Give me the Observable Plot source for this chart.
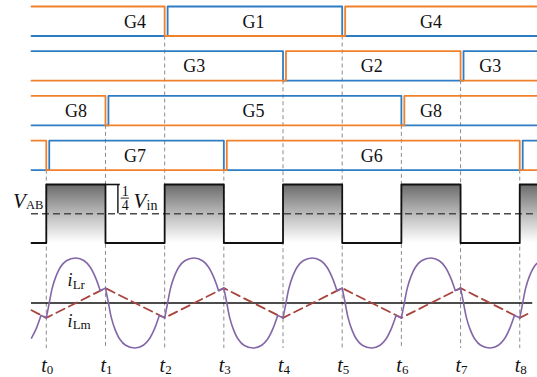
<!DOCTYPE html>
<html>
<head>
<meta charset="utf-8">
<script src="https://cdn.jsdelivr.net/npm/d3@7"></script>
<script src="https://cdn.jsdelivr.net/npm/@observablehq/plot@0.6"></script>
<style>
  html, body { margin: 0; padding: 0; background: #fff; }
  #chart svg { display: block; }
  #chart svg text { font-family: "Liberation Serif", "Times New Roman", serif; }
</style>
</head>
<body>
<div id="chart"></div>
<script>
// Time axis: switching instants t0 … t8 (one unit = one switching interval)
const tickTimes = [0, 1, 2, 3, 4, 5, 6, 7, 8];
const tickLabels = ["0", "1", "2", "3", "4", "5", "6", "7", "8"];
const tStart = -0.25, tEnd = 8.3;

// Gate-drive lanes: switching instants, which colour conducts first, gate names per interval
const laneEdges = [[2, 5], [4, 7], [1, 6], [0, 3, 8]];
const laneFirst = ["orange", "blue", "orange", "orange"];
const laneGates = [["G4", "G1", "G4"], ["G3", "G2", "G3"], ["G8", "G5", "G8"], ["G6", "G7", "G6", "G7"]];
const laneLabelTimes = [[1.5, 3.5, 6.5], [2.5, 5.5, 7.5], [0.5, 3.5, 6.5], [null, 1.5, 5.5, null]];
const deadTime = 0.05; // turn-on lags turn-off

// Bridge voltage V_AB in units of Vin
const vabEdges = [0, 1, 2, 3, 4, 5, 6, 7, 8];
const vabLow = 0, vabHigh = 0.5, vabMid = 0.25;

// Magnetizing current i_Lm at its breakpoints (per unit of the i_Lr peak)
const iLmT = [-0.25, 0, 1, 2, 3, 4, 5, 6, 7, 8, 8.2];
const iLmV = [-0.16, -0.33, 0.33, -0.33, 0.33, -0.33, 0.33, -0.33, 0.33, -0.33, -0.2];

// Resonant current i_Lr: resonant arcs [t, i]
const iLrArcs = [
  [[-0.25, -0.78], [-0.17, -0.57], [-0.09, -0.28]],
  [[0, -0.33], [0.05, 0], [0.1, 0.33], [0.16, 0.58], [0.24, 0.8], [0.34, 0.94], [0.5, 1], [0.64, 0.94], [0.74, 0.8], [0.83, 0.57], [0.91, 0.28]],
  [[1, 0.33], [1.05, 0], [1.1, -0.33], [1.16, -0.58], [1.24, -0.8], [1.34, -0.94], [1.5, -1], [1.64, -0.94], [1.74, -0.8], [1.83, -0.57], [1.91, -0.28]],
  [[2, -0.33], [2.05, 0], [2.1, 0.33], [2.16, 0.58], [2.24, 0.8], [2.34, 0.94], [2.5, 1], [2.64, 0.94], [2.74, 0.8], [2.83, 0.57], [2.91, 0.28]],
  [[3, 0.33], [3.05, 0], [3.1, -0.33], [3.16, -0.58], [3.24, -0.8], [3.34, -0.94], [3.5, -1], [3.64, -0.94], [3.74, -0.8], [3.83, -0.57], [3.91, -0.28]],
  [[4, -0.33], [4.05, 0], [4.1, 0.33], [4.16, 0.58], [4.24, 0.8], [4.34, 0.94], [4.5, 1], [4.64, 0.94], [4.74, 0.8], [4.83, 0.57], [4.91, 0.28]],
  [[5, 0.33], [5.05, 0], [5.1, -0.33], [5.16, -0.58], [5.24, -0.8], [5.34, -0.94], [5.5, -1], [5.64, -0.94], [5.74, -0.8], [5.83, -0.57], [5.91, -0.28]],
  [[6, -0.33], [6.05, 0], [6.1, 0.33], [6.16, 0.58], [6.24, 0.8], [6.34, 0.94], [6.5, 1], [6.64, 0.94], [6.74, 0.8], [6.83, 0.57], [6.91, 0.28]],
  [[7, 0.33], [7.05, 0], [7.1, -0.33], [7.16, -0.58], [7.24, -0.8], [7.34, -0.94], [7.5, -1], [7.64, -0.94], [7.74, -0.8], [7.83, -0.57], [7.91, -0.28]],
  [[8, -0.33], [8.05, 0], [8.1, 0.33], [8.16, 0.58], [8.24, 0.8], [8.29, 0.88]]
];
// i_Lr riding on i_Lm until the next switching instant
const iLrTails = [
  [[-0.09, -0.28], [0, -0.33]],
  [[0.91, 0.28], [1, 0.33]],
  [[1.91, -0.28], [2, -0.33]],
  [[2.91, 0.28], [3, 0.33]],
  [[3.91, -0.28], [4, -0.33]],
  [[4.91, 0.28], [5, 0.33]],
  [[5.91, -0.28], [6, -0.33]],
  [[6.91, 0.28], [7, 0.33]],
  [[7.91, -0.28], [8, -0.33]]
];

// ---- layout ----
const W = 537, H = 377;
const serif = "Liberation Serif";
const colors = {orange: "#EF812D", blue: "#2E7DC4"};
const laneTop = [6, 50.7, 95.4, 140.1], laneH = 29.5;
const laneY = (k, level) => laneTop[k] + (1 - level) * laneH;
const vabTopY = 184, vabBotY = 242.5;
const vabY = v => vabBotY + (vabTopY - vabBotY) * (v - vabLow) / (vabHigh - vabLow);
const axisY = 302.5, ampPx = 45;
const curY = v => axisY - v * ampPx;
const gridBottom = 348;
const tLabelBase = 371.5;

// step outline of one gate signal
function gateSteps(lane, colorName) {
  const edges = laneEdges[lane];
  const key = `${lane}-${colorName}`;
  let on = laneFirst[lane] === colorName;
  const pts = [{t: tStart, y: laneY(lane, on ? 1 : 0), key}];
  for (const e of edges) {
    const te = on ? e : e + deadTime;
    pts.push({t: te, y: laneY(lane, on ? 1 : 0), key});
    pts.push({t: te, y: laneY(lane, on ? 0 : 1), key});
    on = !on;
  }
  pts.push({t: tEnd, y: laneY(lane, on ? 1 : 0), key});
  return pts;
}
const orangeSteps = laneEdges.flatMap((_, k) => gateSteps(k, "orange"));
const blueSteps = laneEdges.flatMap((_, k) => gateSteps(k, "blue"));

const gateLabels = laneGates.flatMap((names, k) =>
  names.map((g, j) => ({lane: k, g, t: laneLabelTimes[k][j]})).filter(d => d.t != null));

// dashed guides start below the lane that switches at that instant
const guides = tickTimes.map(t => {
  const k = laneEdges.findIndex(e => e.includes(t));
  return {t, top: laneY(k, 0), bottom: gridBottom};
});

// V_AB outline and shaded high intervals
const vabPts = [{t: tStart, v: vabLow}];
vabEdges.forEach((e, i) => {
  const before = i % 2 === 0 ? vabLow : vabHigh;
  const after = i % 2 === 0 ? vabHigh : vabLow;
  vabPts.push({t: e, v: before}, {t: e, v: after});
});
vabPts.push({t: tEnd, v: vabEdges.length % 2 === 1 ? vabHigh : vabLow});
const vabHighs = vabEdges.filter((_, i) => i % 2 === 0)
  .map((e, j) => ({t1: e, t2: vabEdges[2 * j + 1] ?? tEnd}));

const iLm = iLmT.map((t, i) => ({t, v: iLmV[i]}));
const arcs = iLrArcs.flatMap((arc, k) => arc.map(([t, v]) => ({t, v, k})));
const tails = iLrTails.flatMap((seg, k) => seg.map(([t, v]) => ({t, v, k})));

const ink = "#111";
const label = (text, x, y, o) => Plot.text([text], {x, y, text: d => d, lineAnchor: "bottom", fontFamily: serif, fill: ink, ...o});

const svg = Plot.plot({
  width: W,
  height: H,
  margin: 0,
  style: {background: "#fff", fontFamily: serif, color: ink},
  x: {domain: [tStart, tEnd], range: [31, W], axis: null},
  y: {domain: [0, H], range: [0, H], axis: null},
  marks: [
    // vertical guides
    Plot.ruleX(guides, {x: "t", y1: "top", y2: "bottom", stroke: "#8c8c8c", strokeWidth: 1, strokeDasharray: "4,3"}),

    // gate drive signals
    Plot.line(blueSteps, {x: "t", y: "y", z: "key", stroke: colors.blue, strokeWidth: 1.8}),
    Plot.line(orangeSteps, {x: "t", y: "y", z: "key", stroke: colors.orange, strokeWidth: 1.8}),
    Plot.text(gateLabels, {x: "t", y: d => laneTop[d.lane] + laneH / 2 + 6.3, text: "g", lineAnchor: "bottom",
      fontSize: 18, fontFamily: serif, fill: ink}),

    // V_AB
    Plot.rect(vabHighs, {x1: "t1", x2: "t2", y1: vabY(vabHigh), y2: vabY(vabLow), fill: "url(#vabShade)"}),
    Plot.ruleY([vabMid], {y: d => vabY(d), x1: tStart, x2: tEnd, stroke: "#4a4a4a", strokeWidth: 1.3, strokeDasharray: "7,4"}),
    Plot.line(vabPts, {x: "t", y: d => vabY(d.v), stroke: ink, strokeWidth: 1.8}),
    Plot.ruleY([vabHigh], {y: d => vabY(d), x1: 1, x2: 1.25, stroke: ink, strokeWidth: 1.6}),
    Plot.ruleX([1.21], {x: d => d, y1: vabY(vabHigh), y2: vabY(vabMid), stroke: ink, strokeWidth: 1.4, ariaLabel: "vin arrow"}),

    // current axis
    Plot.ruleY([0], {y: d => curY(d), x1: tStart, x2: 8.22, stroke: ink, strokeWidth: 1.6, ariaLabel: "current axis"}),

    // i_Lm and i_Lr
    Plot.line(iLm, {x: "t", y: d => curY(d.v), stroke: "#A8443C", strokeWidth: 1.8, strokeDasharray: "9,5"}),
    Plot.line(arcs, {x: "t", y: d => curY(d.v), z: "k", stroke: "#8366A8", strokeWidth: 1.6, curve: "catmull-rom"}),
    Plot.line(tails, {x: "t", y: d => curY(d.v), z: "k", stroke: "#8366A8", strokeWidth: 1.6}),

    // time labels t_k
    Plot.text(tickTimes, {x: d => d, y: tLabelBase, text: () => "t", textAnchor: "end", lineAnchor: "bottom",
      fontSize: 20, fontStyle: "italic", fontFamily: serif, fill: ink, dx: 0.5}),
    Plot.text(tickTimes, {x: d => d, y: tLabelBase + 2, text: (d, i) => tickLabels[i], textAnchor: "start", lineAnchor: "bottom",
      fontSize: 13, fontFamily: serif, fill: ink, dx: 0.5}),

    // V_AB label
    label("V", -0.345, 207, {textAnchor: "end", fontSize: 21, fontStyle: "italic"}),
    label("AB", -0.345, 208.5, {textAnchor: "start", fontSize: 12.5}),

    // 1/4 Vin annotation
    label("1", 1.335, 195.3, {fontSize: 14}),
    Plot.ruleY([197.6], {y: d => d, x1: 1.265, x2: 1.405, stroke: ink, strokeWidth: 0.9}),
    label("4", 1.335, 209.3, {fontSize: 14}),
    label("V", 1.69, 207.5, {textAnchor: "end", fontSize: 21, fontStyle: "italic"}),
    label("in", 1.695, 209, {textAnchor: "start", fontSize: 14}),

    // current labels
    label("i", 0.445, 285.5, {textAnchor: "end", fontSize: 18, fontStyle: "italic"}),
    label("Lr", 0.445, 288.5, {textAnchor: "start", fontSize: 13}),
    label("i", 0.445, 326, {textAnchor: "end", fontSize: 18, fontStyle: "italic"}),
    label("Lm", 0.445, 328.5, {textAnchor: "start", fontSize: 13})
  ]
});

// gradient for the high intervals of V_AB and filled arrowheads
const defs = d3.select(svg).insert("defs", ":first-child");
const grad = defs.append("linearGradient").attr("id", "vabShade")
  .attr("x1", 0).attr("y1", 0).attr("x2", 0).attr("y2", 1);
grad.append("stop").attr("offset", 0).attr("stop-color", "#6a6a6a");
grad.append("stop").attr("offset", 0.5).attr("stop-color", "#b9b9b9");
grad.append("stop").attr("offset", 1).attr("stop-color", "#ffffff");

function head(id, len, wid) {
  defs.append("marker").attr("id", id)
    .attr("viewBox", "0 0 10 10").attr("refX", 10).attr("refY", 5)
    .attr("markerUnits", "userSpaceOnUse").attr("markerWidth", len).attr("markerHeight", wid)
    .attr("preserveAspectRatio", "none").attr("orient", "auto-start-reverse")
    .append("path").attr("d", "M0,0L10,5L0,10Z").attr("fill", ink);
}
head("axisHead", 10, 8);
head("smallHead", 8, 6.5);
d3.select(svg).selectAll('g[aria-label="current axis"] line').attr("marker-end", "url(#axisHead)");
d3.select(svg).selectAll('g[aria-label="vin arrow"] line')
  .attr("marker-start", "url(#smallHead)").attr("marker-end", "url(#smallHead)");

document.getElementById("chart").appendChild(svg);
</script>
</body>
</html>
